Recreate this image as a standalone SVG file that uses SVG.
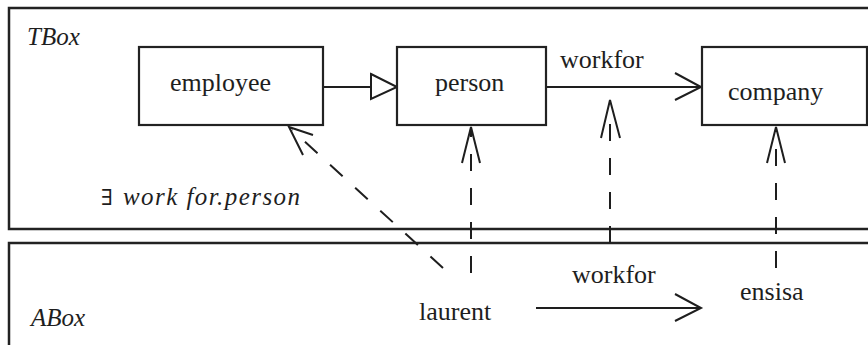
<svg xmlns="http://www.w3.org/2000/svg" width="868" height="345" viewBox="0 0 868 345">
<style>
.frame{fill:none;stroke:#222;stroke-width:2.5}
.box{fill:#fff;stroke:#222;stroke-width:2.2}
.t{font-family:"Liberation Serif","Times New Roman",serif;font-size:26px;fill:#1e1e1e}
.it{font-family:"Liberation Serif","Times New Roman",serif;font-style:italic;font-size:25px;fill:#1e1e1e}
.ln{fill:none;stroke:#1e1e1e;stroke-width:2}
.dash{fill:none;stroke:#1e1e1e;stroke-width:2;stroke-dasharray:17 17}
.head{fill:none;stroke:#1e1e1e;stroke-width:2;stroke-linejoin:miter}
</style>
<rect width="868" height="345" fill="#fff"/>
<g id="tbox">
<rect class="frame" x="9" y="8" width="880" height="221"/>
<text class="it" x="27" y="45">TBox</text>
<text class="it" x="101" y="205" font-size="26"><tspan font-family="DejaVu Serif" font-style="normal" font-size="22">∃</tspan><tspan x="123" textLength="177" lengthAdjust="spacing">work for.person</tspan></text>
</g>
<g id="abox">
<rect class="frame" x="9" y="243" width="880" height="130"/>
<text class="it" x="31" y="326">ABox</text>
</g>
<g id="connectors">
<path class="ln" d="M323 87H371"/>
<path class="head" d="M371 74L397 87L371 99Z" fill="#fff"/>
<path class="ln" d="M546 87H701"/>
<path class="head" d="M675 73L701 87L675 100"/>
<path class="ln" d="M536 308H701"/>
<path class="head" d="M675 294L701 308L675 321"/>
<path class="dash" d="M443 268L292 130"/>
<path class="head" d="M313 135L289 127L303 155"/>
<path class="dash" d="M471 273V128"/>
<path class="head" d="M462 163L471 127L480 163"/>
<path class="dash" d="M610 243V122"/>
<path class="ln" d="M610 229V243"/>
<path class="head" d="M601 138L610 100L620 138"/>
<path class="dash" d="M776 268V130"/>
<path class="head" d="M767 163L776 127L785 163"/>
</g>
<g id="employee">
<rect class="box" x="139" y="47" width="184" height="78"/>
<text class="t" x="170" y="91">employee</text>
</g>
<g id="person">
<rect class="box" x="397" y="47" width="149" height="78"/>
<text class="t" x="435" y="91">person</text>
</g>
<g id="company">
<rect class="box" x="702" y="47" width="165" height="78"/>
<text class="t" x="728" y="100">company</text>
</g>
<g id="labels">
<text class="t" x="560" y="68">workfor</text>
<text class="t" x="572" y="283">workfor</text>
</g>
<g id="laurent">
<text class="t" x="419" y="320">laurent</text>
</g>
<g id="ensisa">
<text class="t" x="740" y="300">ensisa</text>
</g>
</svg>
